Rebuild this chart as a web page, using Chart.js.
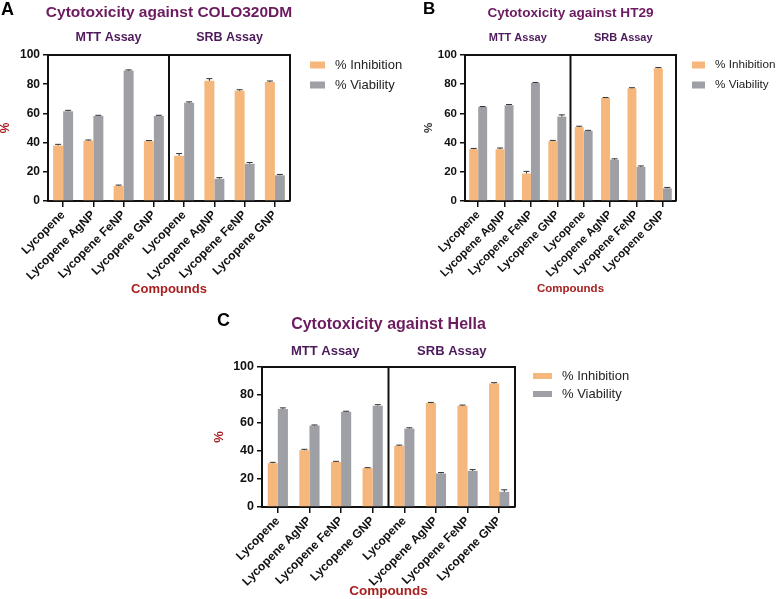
<!DOCTYPE html>
<html><head><meta charset="utf-8">
<script src="https://cdn.jsdelivr.net/npm/chart.js@4.4.1/dist/chart.umd.min.js"></script>
<style>
html,body{margin:0;padding:0;background:#fff;width:776px;height:599px;overflow:hidden;position:relative}
canvas{position:absolute}
</style></head><body>
<canvas id="cA" width="420" height="300" style="left:0;top:0"></canvas>
<canvas id="cB" width="376" height="300" style="left:400px;top:0"></canvas>
<canvas id="cC" width="460" height="299" style="left:200px;top:300px"></canvas>
<script>
const categories = ['Lycopene','Lycopene AgNP','Lycopene FeNP','Lycopene GNP','Lycopene','Lycopene AgNP','Lycopene FeNP','Lycopene GNP'];
const groupLabels = ['MTT Assay','SRB Assay'];
const yTicks = [0,20,40,60,80,100];
const seriesNames = ['% Inhibition','% Viability'];
const seriesColors = ['#f5b77b','#9fa0a5'];

const coloInhibition    = [38, 41.3, 10.3, 41, 31, 82.3, 75.5, 81.5];
const coloInhibitionErr = [0.8, 0.5, 0.6, 0.4, 1.5, 1.5, 0.7, 0.7];
const coloViability     = [61.5, 58.3, 89.3, 58.3, 67.3, 15.2, 25.5, 17.6];
const coloViabilityErr  = [0.6, 0.4, 0.5, 0.4, 0.6, 0.8, 0.9, 0.6];

const ht29Inhibition    = [35.5, 35.5, 18.8, 41, 50.6, 70.5, 77.2, 91];
const ht29InhibitionErr = [0.5, 0.8, 1.5, 0.5, 0.6, 0.4, 0.4, 0.4];
const ht29Viability     = [64.3, 65.6, 80.8, 57.8, 48, 28.3, 23.3, 8.7];
const ht29ViabilityErr  = [0.4, 0.5, 0.4, 1.2, 0.4, 0.6, 0.7, 0.6];

const hellaInhibition    = [31.3, 40.6, 32.2, 27.8, 43.7, 74.2, 72.3, 88.2];
const hellaInhibitionErr = [0.6, 0.6, 0.4, 0.3, 0.5, 0.5, 0.5, 0.6];
const hellaViability     = [70, 58.2, 68, 72.4, 56, 24, 25.8, 10.8];
const hellaViabilityErr  = [0.8, 0.4, 0.4, 0.7, 0.6, 0.6, 0.9, 1.5];

const FONT = '"Liberation Sans", Arial, sans-serif';
const TITLE_COLOR = '#6d1b5f', GROUP_COLOR = '#4d1a5c', RED = '#a82020';

function makePanel(p){
  const plugin = {
    id: 'panel' + p.letter,
    afterDatasetsDraw(chart){
      const ctx = chart.ctx, a = chart.chartArea, x = chart.scales.x, y = chart.scales.y;
      ctx.save();
      // error bars
      chart.data.datasets.forEach((ds, di) => {
        const meta = chart.getDatasetMeta(di);
        meta.data.forEach((bar, i) => {
          const v = ds.data[i], e = ds.errors[i];
          const yt = y.getPixelForValue(v + e), yb = y.getPixelForValue(v);
          ctx.strokeStyle = '#333'; ctx.lineWidth = 1;
          ctx.beginPath();
          ctx.moveTo(bar.x, yb); ctx.lineTo(bar.x, yt);
          ctx.moveTo(bar.x - p.cap, yt); ctx.lineTo(bar.x + p.cap, yt);
          ctx.stroke();
        });
      });
      // frame + divider
      ctx.strokeStyle = '#111'; ctx.lineWidth = 2;
      ctx.beginPath();
      ctx.moveTo(a.left, a.top); ctx.lineTo(a.right, a.top); ctx.lineTo(a.right, a.bottom);
      ctx.stroke();
      const divX = (x.getPixelForValue(3) + x.getPixelForValue(4)) / 2;
      ctx.beginPath(); ctx.moveTo(divX, a.top); ctx.lineTo(divX, a.bottom); ctx.stroke();
      const cx = (a.left + a.right) / 2;
      ctx.textBaseline = 'middle';
      // group labels
      ctx.fillStyle = GROUP_COLOR; ctx.textAlign = 'center';
      ctx.font = 'bold ' + p.groupSize + 'px ' + FONT;
      ctx.fillText(groupLabels[0], (a.left + divX) / 2, p.groupY);
      ctx.fillText(groupLabels[1], (divX + a.right) / 2, p.groupY);
      // title
      ctx.fillStyle = TITLE_COLOR;
      ctx.font = 'bold ' + p.titleSize + 'px ' + FONT;
      ctx.fillText(p.title, cx, p.titleY);
      // letter
      ctx.fillStyle = '#000'; ctx.textAlign = 'left';
      ctx.font = 'bold ' + p.letterSize + 'px ' + FONT;
      ctx.fillText(p.letter, p.letterX, p.letterY);
      // x title
      ctx.fillStyle = RED; ctx.textAlign = 'center';
      ctx.font = 'bold ' + p.xTitleSize + 'px ' + FONT;
      ctx.fillText('Compounds', cx, p.xTitleY);
      // y title
      ctx.save();
      ctx.translate(p.yTitleX, (a.top + a.bottom) / 2);
      ctx.rotate(-Math.PI / 2);
      ctx.fillStyle = p.yTitleColor;
      ctx.font = 'bold ' + p.yTitleSize + 'px ' + FONT;
      ctx.fillText('%', 0, 0);
      ctx.restore();
      // legend
      ctx.textAlign = 'left';
      ctx.font = p.legendSize + 'px ' + FONT;
      chart.data.datasets.forEach((ds, di) => {
        const ly = p.legendY[di];
        ctx.fillStyle = ds.backgroundColor;
        ctx.fillRect(a.right + p.legSqOff, ly - p.legSqH / 2, p.legSqW, p.legSqH);
        ctx.fillStyle = '#222';
        ctx.fillText(ds.label, a.right + p.legTextOff, ly);
      });
      ctx.restore();
    }
  };
  return new Chart(document.getElementById(p.canvas), {
    type: 'bar',
    data: {
      labels: categories,
      datasets: [
        { label: seriesNames[0], data: p.inh, errors: p.inhErr, backgroundColor: seriesColors[0] },
        { label: seriesNames[1], data: p.via, errors: p.viaErr, backgroundColor: seriesColors[1] }
      ]
    },
    options: {
      responsive: false, animation: false, devicePixelRatio: 1,
      layout: { padding: { left: 0, top: p.padTop, right: p.padRight, bottom: 0 } },
      plugins: { legend: { display: false }, tooltip: { enabled: false }, title: { display: false } },
      datasets: { bar: { categoryPercentage: p.catPct, barPercentage: 1.0 } },
      scales: {
        x: {
          afterFit: s => { s.height = p.xAxisH; },
          grid: { display: true, drawOnChartArea: false, drawTicks: true, tickLength: 6, offset: false, color: '#111', lineWidth: 1.5 },
          border: { display: true, color: '#111', width: 2 },
          ticks: { minRotation: 45, maxRotation: 45, autoSkip: false, padding: 1, color: '#111', font: { family: FONT, size: p.xTickSize, weight: 'bold' } }
        },
        y: {
          min: 0, max: 100,
          afterFit: s => { s.width = p.yAxisW; },
          afterBuildTicks: s => { s.ticks = yTicks.map(v => ({ value: v })); },
          grid: { display: true, drawOnChartArea: false, drawTicks: true, tickLength: 5, color: '#111', lineWidth: 1.5 },
          border: { display: true, color: '#111', width: 2 },
          ticks: { padding: 3, color: '#111', font: { family: FONT, size: p.yTickSize, weight: 'bold' } }
        }
      }
    },
    plugins: [plugin]
  });
}

makePanel({
  canvas: 'cA', letter: 'A', title: 'Cytotoxicity against COLO320DM',
  inh: coloInhibition, inhErr: coloInhibitionErr, via: coloViability, viaErr: coloViabilityErr,
  padTop: 55, padRight: 130, xAxisH: 99, yAxisW: 48, catPct: 0.66, cap: 3,
  xTickSize: 12, yTickSize: 12,
  titleSize: 15.5, titleY: 13, letterSize: 18, letterX: 1, letterY: 10,
  groupSize: 12.5, groupY: 38, xTitleSize: 13, xTitleY: 289,
  yTitleX: 6, yTitleSize: 12, yTitleColor: RED,
  legendSize: 13, legendY: [65, 85], legSqOff: 20, legSqW: 15, legSqH: 7, legTextOff: 45
});
makePanel({
  canvas: 'cB', letter: 'B', title: 'Cytotoxicity against HT29',
  inh: ht29Inhibition, inhErr: ht29InhibitionErr, via: ht29Viability, viaErr: ht29ViabilityErr,
  padTop: 55, padRight: 100, xAxisH: 99, yAxisW: 65, catPct: 0.68, cap: 3,
  xTickSize: 11.5, yTickSize: 11.5,
  titleSize: 13.6, titleY: 13, letterSize: 17, letterX: 23, letterY: 9,
  groupSize: 11, groupY: 38, xTitleSize: 11.5, xTitleY: 289,
  yTitleX: 29, yTitleSize: 11.5, yTitleColor: '#333',
  legendSize: 11.7, legendY: [65, 85], legSqOff: 16, legSqW: 13, legSqH: 7, legTextOff: 39
});
makePanel({
  canvas: 'cC', letter: 'C', title: 'Cytotoxicity against Hella',
  inh: hellaInhibition, inhErr: hellaInhibitionErr, via: hellaViability, viaErr: hellaViabilityErr,
  padTop: 67, padRight: 145, xAxisH: 92, yAxisW: 62, catPct: 0.64, cap: 3,
  xTickSize: 12, yTickSize: 12.5,
  titleSize: 16, titleY: 25, letterSize: 18, letterX: 17, letterY: 21,
  groupSize: 13, groupY: 51, xTitleSize: 13.5, xTitleY: 291,
  yTitleX: 19, yTitleSize: 13, yTitleColor: RED,
  legendSize: 13, legendY: [76, 94], legSqOff: 18, legSqW: 19, legSqH: 6, legTextOff: 47
});
</script>
</body></html>
